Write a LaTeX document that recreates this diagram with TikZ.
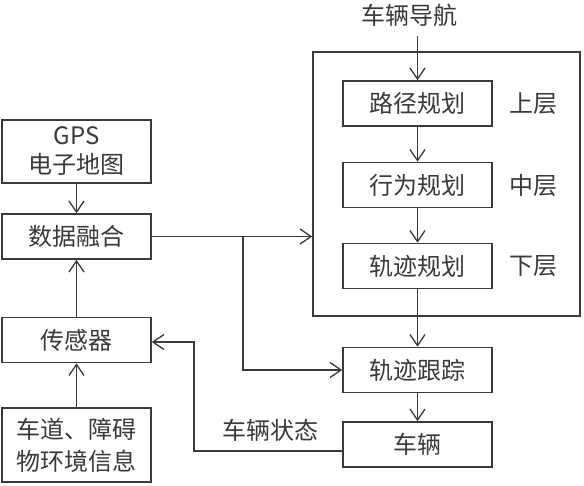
\documentclass[tikz,border=0pt]{standalone}
\usepackage{fontspec}
\setmainfont{Noto Sans CJK SC}
\usepackage{tikz}
\usetikzlibrary{arrows.meta,calc,positioning}
\definecolor{ink}{HTML}{3A3A3A}
\definecolor{paper}{HTML}{FFFFFF}

\begin{document}
\begin{tikzpicture}[x=1pt,y=-1pt,
  font=\fontsize{24}{29}\selectfont,text=ink,
  box/.style={draw=ink,line width=1.6pt,fill=paper,inner sep=0pt,align=center,minimum width=149pt,minimum height=45pt},
  tag/.style={inner sep=0pt,text=ink},
  ar/.style={-{Straight Barb[length=11pt,width=15pt,line width=1.3pt]},line width=1.3pt,color=ink},
  ln/.style={line width=1.3pt,color=ink}]
  \useasboundingbox[fill=paper] (0,0) rectangle (584,485);
  % planning frame, drawn first so the boxes sit on top
  \node[draw=ink,line width=1.6pt,minimum width=267pt,minimum height=264pt,inner sep=0pt] (frame) at (446.5,184) {};
  % left column at x = 76.5 ; right column at x = 417.5
  \node[box,minimum height=63pt] (gps)  at (76.5,151.5) {GPS\\电子地图};
  \node[box] (fuse)   at (76.5,236.5) {数据融合};
  \node[box] (sensor) at (76.5,340)   {传感器};
  \node[box,minimum height=74pt,font=\fontsize{24}{32}\selectfont] (env) at (76.5,445) {车道、障碍\\物环境信息};
  \node[box] (route)  at (417.5,103.5) {路径规划};
  \node[box] (behav)  at (417.5,185)   {行为规划};
  \node[box] (traj)   at (417.5,266)   {轨迹规划};
  \node[box] (track)  at (417.5,370)   {轨迹跟踪};
  \node[box] (car)    at (417.5,444.5) {车辆};
  \node[tag] (nav)   at (409,15)    {车辆导航};
  \node[tag] (upper) at (533,103.5) {上层};
  \node[tag] (mid)   at (533,185)   {中层};
  \node[tag] (lower) at (533,266)   {下层};
  \node[tag] (state) at (270,430)   {车辆状态};
  \coordinate (split) at (243,236.5);
  \coordinate (fb)    at (194,451);
  % left column, bottom up and top down
  \draw[ar] (gps)    -- (fuse);
  \draw[ar] (env)    -- (sensor);
  \draw[ar] (sensor) -- (fuse);
  % fused data to planning and to tracking
  \draw[ar] (fuse.east) -- (fuse.east -| frame.west);
  \draw[ar] (split) |- (track.west);
  % planning chain
  \draw[ar] (route.north |- nav.south) ++(0,10) -- (route.north);
  \draw[ar] (route) -- (behav);
  \draw[ar] (behav) -- (traj);
  \draw[ar] (traj)  -- (track);
  \draw[ar] (track) -- (car);
  % vehicle state fed back to the sensors
  \draw[ar] ([yshift=-6.5pt]car.west) -- (fb) |- ([yshift=-2pt]sensor.east);
\end{tikzpicture}
\end{document}
